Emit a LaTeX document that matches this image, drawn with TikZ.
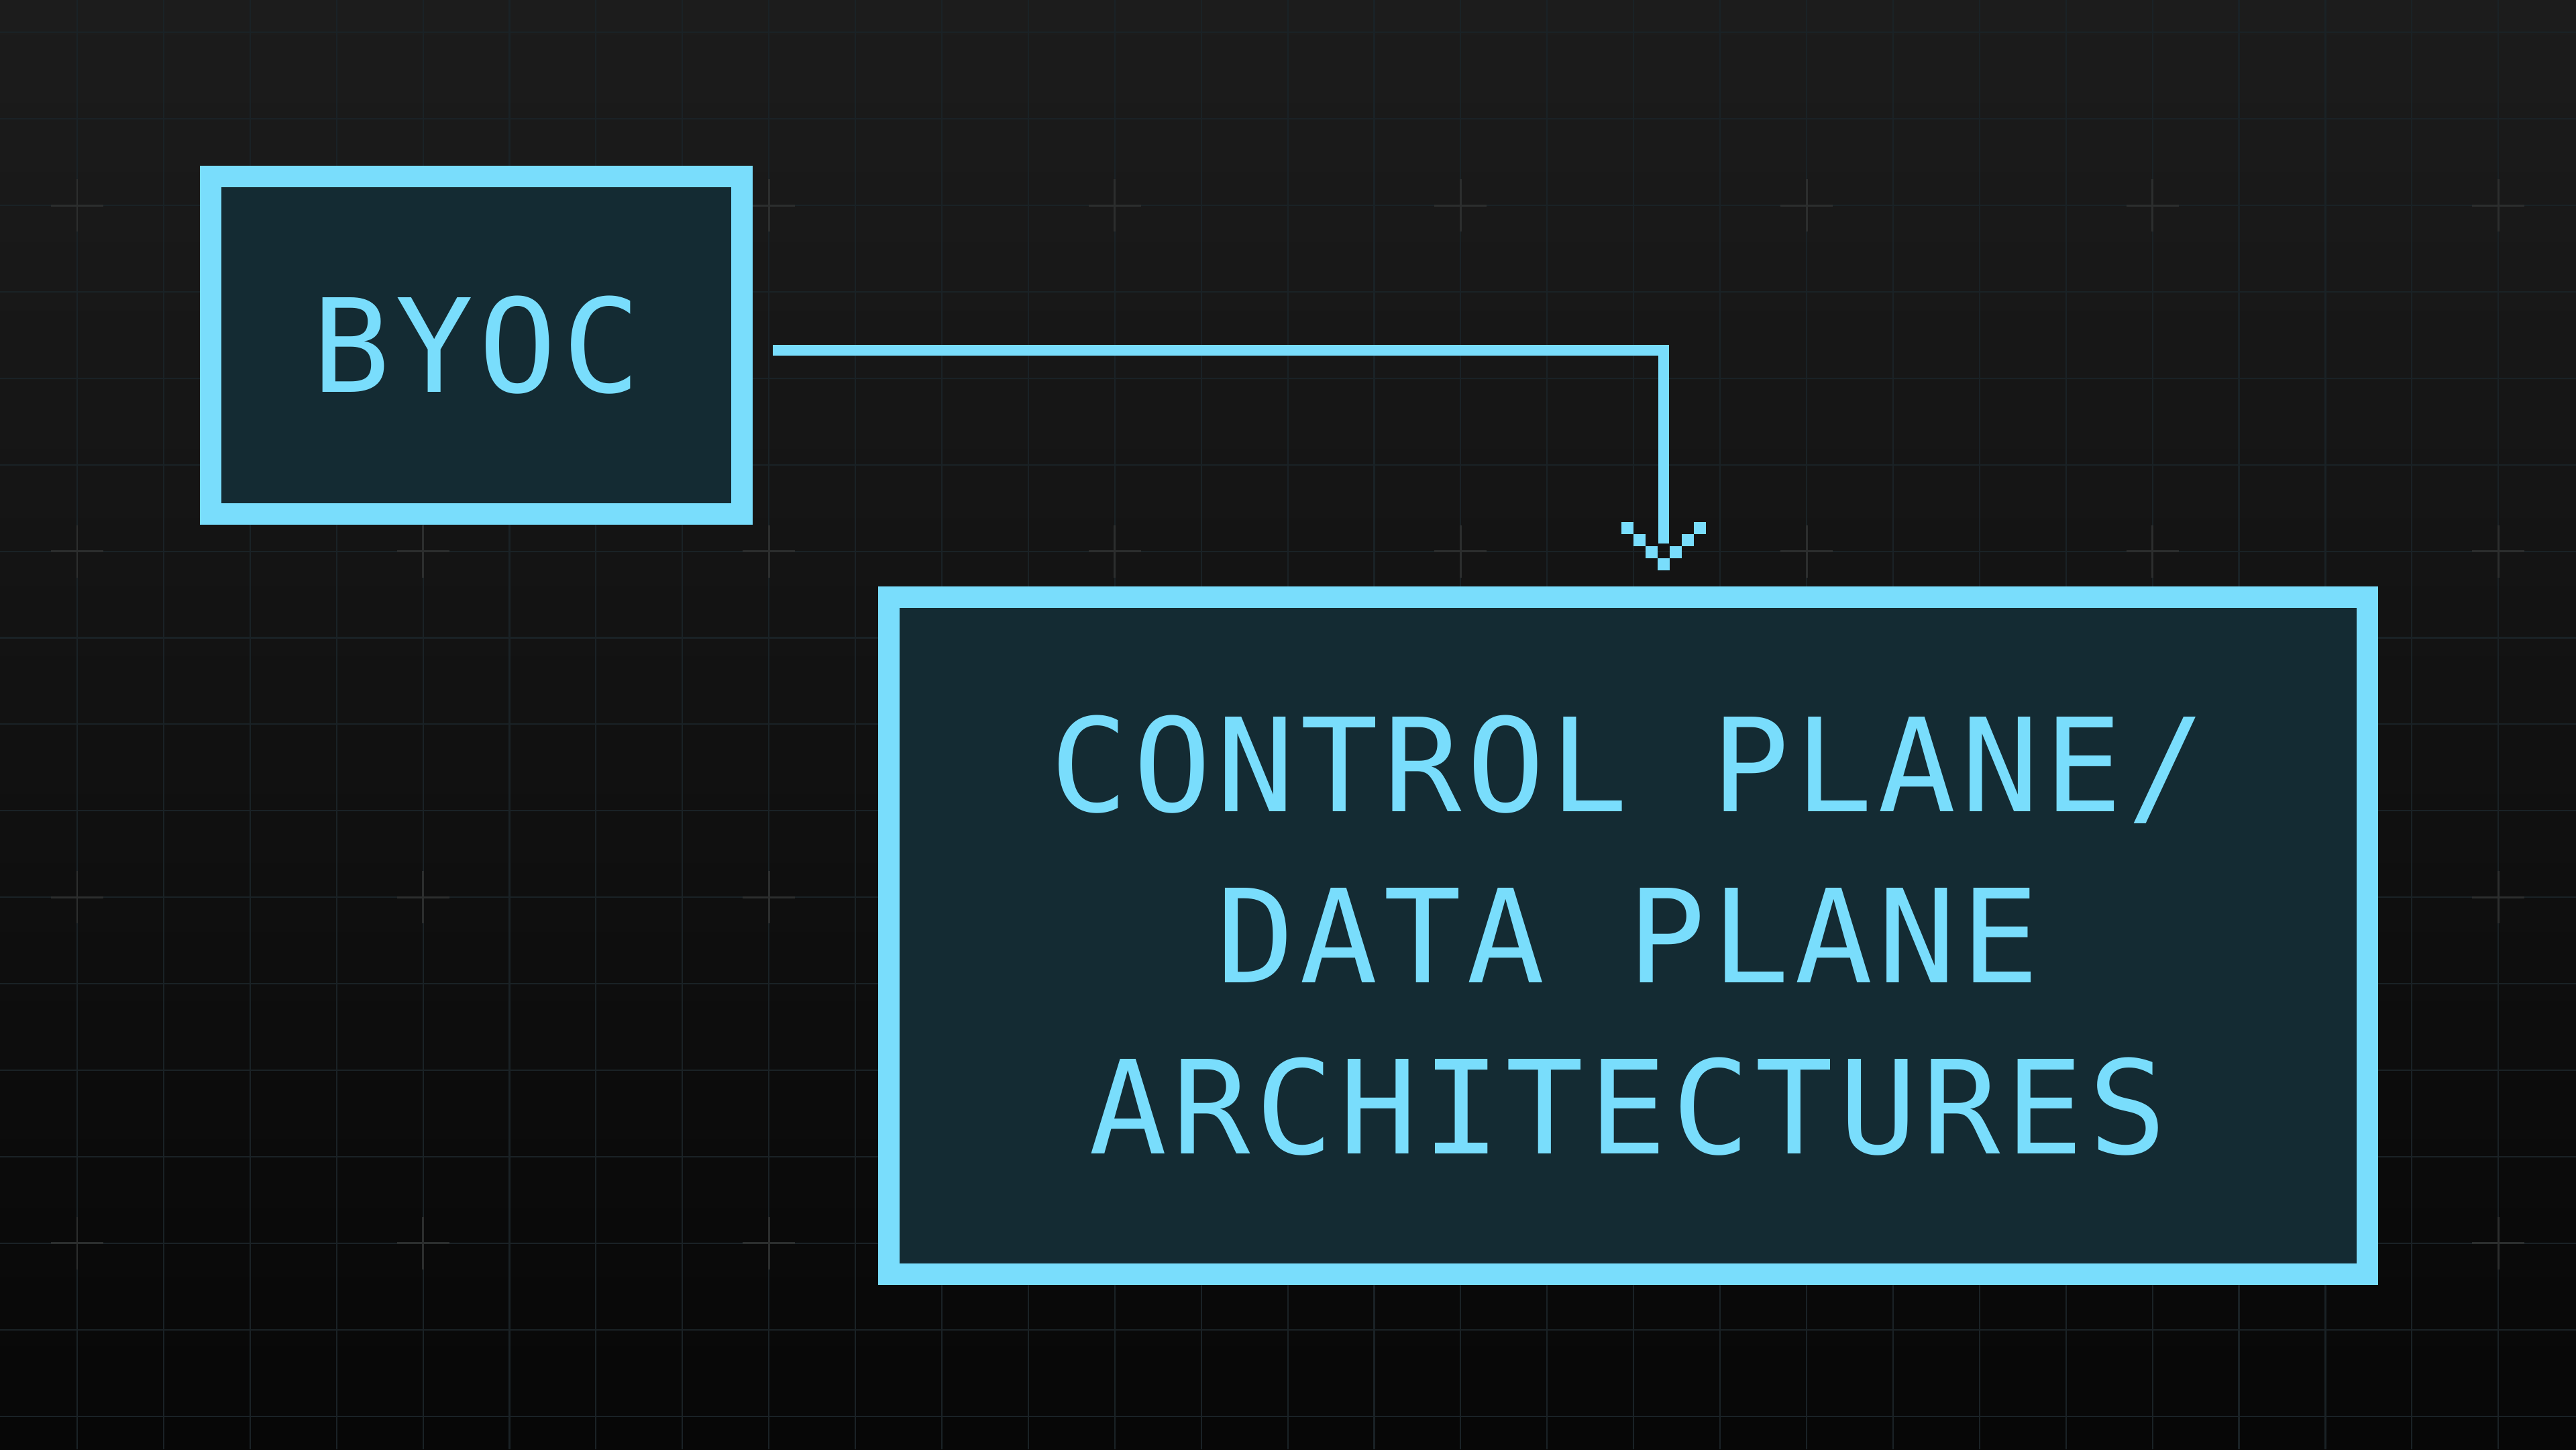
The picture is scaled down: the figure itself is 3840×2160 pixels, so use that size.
\documentclass[tikz,border=0pt]{standalone}
\usepackage{fontspec}
\newfontfamily\pixfont[LetterSpace=4]{DejaVu Sans Mono}
\usetikzlibrary{calc}
\definecolor{cyanc}{HTML}{79DDFC}
\definecolor{boxfill}{HTML}{142B33}
\definecolor{bgtop}{HTML}{1C1C1C}
\definecolor{bgbot}{HTML}{070707}
\definecolor{gridc}{HTML}{1A2226}
\definecolor{crossc}{HTML}{2C2E2E}
\begin{document}
\begin{tikzpicture}[x=0.01cm,y=-0.01cm,
  pixbox/.style={rectangle, draw=cyanc, fill=boxfill, line width=9.1pt,
    text=cyanc, font=\pixfont\fontsize{55}{72.5}\selectfont,
    align=center, inner sep=0pt},
  conn/.style={draw=cyanc, line width=4.55pt},
  gridline/.style={draw=gridc, line width=0.6pt},
  crossline/.style={draw=crossc, line width=0.85pt},
  pixel/.style={fill=cyanc}]
\useasboundingbox (0,0) rectangle (3840,2160);
\shade[top color=bgtop, bottom color=bgbot] (0,0) rectangle (3840,2160);
% grid
\foreach \k in {0,...,28} {
  \draw[gridline] ({115+128.9*\k},0) -- ({115+128.9*\k},2160);
}
\foreach \k in {0,...,16} {
  \draw[gridline] (0,{48.2+128.9*\k}) -- (3840,{48.2+128.9*\k});
}
\foreach \i in {0,...,7} {
  \foreach \j in {0,...,3} {
    \draw[crossline] ({115+515.6*\i-39},{306+515.6*\j}) -- ({115+515.6*\i+39},{306+515.6*\j});
    \draw[crossline] ({115+515.6*\i},{306+515.6*\j-39}) -- ({115+515.6*\i},{306+515.6*\j+39});
  }
}
% boxes
\node[pixbox, minimum width=7.92cm, minimum height=5.03cm] (byoc) at (710,514.5) {BYOC};
\node[pixbox, minimum width=22.02cm, minimum height=10.09cm] (big) at (2427,1394.5)
  {CONTROL PLANE/\\DATA PLANE\\ARCHITECTURES};
% connector
\coordinate (tip) at ([xshift=0.53cm, yshift=0.24cm]big.north);
\draw[conn] ([xshift=0.3cm, yshift=-0.075cm]byoc.east) -| ([yshift=0.4cm]tip);
\foreach \j in {-3,...,3} {
  \pgfmathsetmacro\a{abs(\j)}
  \fill[pixel] ($(tip)+({-9+18*\j},{-18-18*\a})$) rectangle ++(18,18);
}
\end{tikzpicture}
\end{document}
